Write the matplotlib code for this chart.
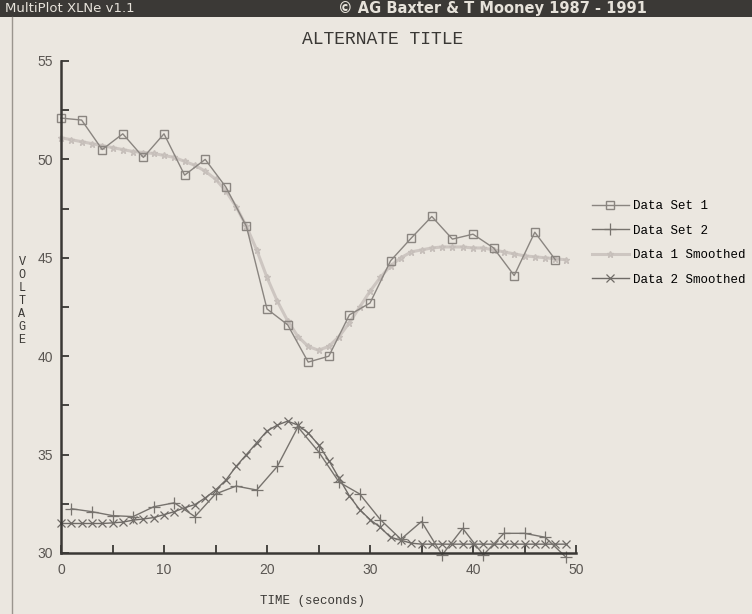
import matplotlib
matplotlib.use("Agg")
import matplotlib.pyplot as plt
from matplotlib.lines import Line2D
from matplotlib.ticker import MultipleLocator

# data
x1 = list(range(0, 50, 2))
set1 = [52.1, 52.0, 50.5, 51.3, 50.1, 51.3, 49.2, 50.0, 48.6, 46.6,
        42.4, 41.6, 39.7, 40.0, 42.1, 42.7, 44.85, 46.0, 47.1, 45.95,
        46.2, 45.5, 44.1, 46.3, 44.9]

x2 = list(range(1, 50, 2))
set2 = [32.25, 32.1, 31.9, 31.85, 32.35, 32.55, 31.85, 33.0, 33.4, 33.2,
        34.4, 36.4, 35.15, 33.6, 33.0, 31.7, 30.7, 31.6, 29.9, 31.25,
        29.9, 31.0, 31.0, 30.8, 29.8]

xs = list(range(0, 50))
smooth1 = [51.1, 51.0, 50.9, 50.8, 50.7, 50.6, 50.5, 50.4, 50.35, 50.3,
           50.2, 50.1, 49.9, 49.7, 49.4, 49.0, 48.4, 47.6, 46.6, 45.4,
           44.0, 42.8, 41.8, 41.0, 40.5, 40.3, 40.5, 41.0, 41.7, 42.5,
           43.3, 44.0, 44.6, 45.0, 45.3, 45.4, 45.5, 45.55, 45.55, 45.55,
           45.5, 45.5, 45.4, 45.3, 45.2, 45.1, 45.05, 45.0, 44.95, 44.9]
smooth2 = [31.5, 31.5, 31.5, 31.5, 31.5, 31.53, 31.57, 31.67, 31.73, 31.8,
           31.95, 32.1, 32.3, 32.46, 32.8, 33.2, 33.7, 34.4, 35.0, 35.6,
           36.2, 36.5, 36.7, 36.5, 36.1, 35.5, 34.7, 33.8, 32.9, 32.2,
           31.7, 31.3, 30.8, 30.65, 30.5, 30.45, 30.45, 30.45, 30.45, 30.45,
           30.45, 30.45, 30.45, 30.45, 30.45, 30.45, 30.45, 30.45, 30.45, 30.45]

names = ["Data Set 1", "Data Set 2", "Data 1 Smoothed", "Data 2 Smoothed"]

bg = "#ebe7e0"
fig = plt.figure(figsize=(7.52, 6.14), dpi=100, facecolor=bg)

# title bar of the program window
fig.patches.append(plt.Rectangle((0, 1 - 17/614), 1, 17/614, transform=fig.transFigure,
                                 facecolor="#3b3936", edgecolor="none", zorder=0))
fig.text(5/752, 1 - 8/614, "MultiPlot XLNe v1.1", color="#e6e2da", fontsize=9.5,
         family="DejaVu Sans", va="center", ha="left")
fig.text(338/752, 1 - 8/614, "\u00a9 AG Baxter & T Mooney 1987 - 1991", color="#e6e2da",
         fontsize=10.5, fontweight="bold", family="DejaVu Sans", va="center", ha="left")
fig.lines.append(Line2D([12/752, 12/752], [0, 1 - 17/614], transform=fig.transFigure,
                        color="#9a958e", lw=1))

ax = fig.add_axes([61/752, 1 - 553/614, 515/752, 492/614])
ax.set_facecolor(bg)

ax.plot(xs, smooth1, color="#cdc6c1", lw=2.2, marker="*", ms=5, mec="#c6bfba",
        label=names[2], clip_on=False)
ax.plot(x1, set1, color="#8a8580", lw=1, marker="s", ms=6, mfc="none", mec="#8a8580",
        mew=1, label=names[0], clip_on=False)
ax.plot(xs, smooth2, color="#6f6b67", lw=1, marker="x", ms=6, mew=0.9,
        label=names[3], clip_on=False)
ax.plot(x2, set2, color="#77736e", lw=1, marker="+", ms=8, mew=0.9,
        label=names[1], clip_on=False)

ax.set_xlim(0, 50)
ax.set_ylim(30, 55)
ax.xaxis.set_major_locator(MultipleLocator(10))
ax.xaxis.set_minor_locator(MultipleLocator(5))
ax.yaxis.set_major_locator(MultipleLocator(5))
ax.yaxis.set_minor_locator(MultipleLocator(2.5))
ax.tick_params(which="both", direction="in", length=6, width=1.3, color="#3a3835",
               labelsize=10, labelcolor="#5a5652")
ax.tick_params(axis="x", pad=7)
ax.tick_params(axis="y", pad=6)
for t in ax.get_xticklabels() + ax.get_yticklabels():
    t.set_family("Liberation Sans")
for s in ["top", "right"]:
    ax.spines[s].set_visible(False)
for s in ["left", "bottom"]:
    ax.spines[s].set_linewidth(1.8)
    ax.spines[s].set_color("#3a3835")

fig.text(383/752, 1 - 40/614, "ALTERNATE TITLE", ha="center", va="center",
         fontsize=13, family="Liberation Mono", color="#3a3835")
fig.text(22/752, 1 - 301/614, "V\nO\nL\nT\nA\nG\nE", ha="center", va="center",
         fontsize=8.5, family="Liberation Mono", color="#3a3835", linespacing=1.1)
fig.text(313/752, 1 - 601/614, "TIME (seconds)", ha="center", va="center",
         fontsize=9, family="Liberation Mono", color="#3a3835")

h, l = ax.get_legend_handles_labels()
order = [l.index(n) for n in names]
fig.legend([h[i] for i in order], [l[i] for i in order], loc="upper left",
           bbox_to_anchor=(586/752, 1 - 194/614), bbox_transform=fig.transFigure,
           frameon=False, borderpad=0, handlelength=2.9, handletextpad=0.35,
           labelspacing=1.0, prop={"family": "Liberation Mono", "size": 9})

fig.savefig("out.png", dpi=100, facecolor=bg)
